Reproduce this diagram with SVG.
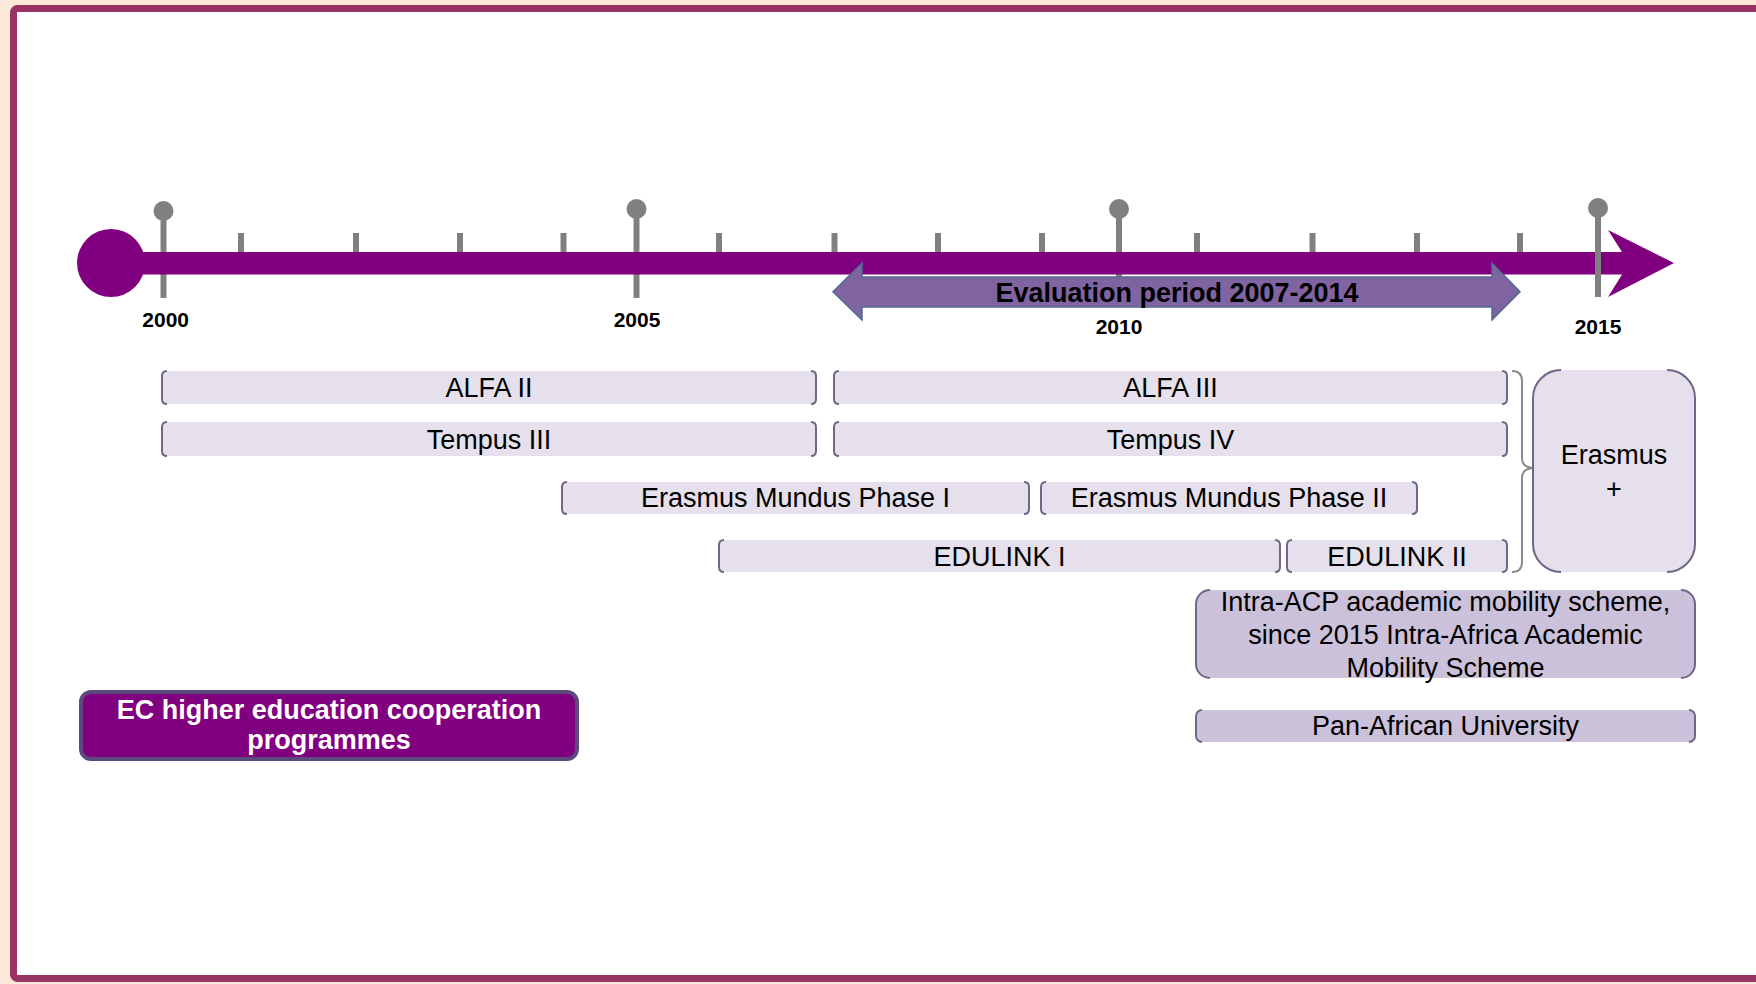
<svg xmlns="http://www.w3.org/2000/svg" width="1756" height="984" viewBox="0 0 1756 984">
  <style>
    text { font-family: "Liberation Sans", Arial, sans-serif; fill: #000; }
    .prog { font-size: 27px; text-anchor: middle; }
    .year { font-size: 21px; font-weight: bold; text-anchor: middle; }
    .bar { fill: #E5E0EC; }
    .bar2 { fill: #CCC1DA; }
    .brk { fill: none; stroke: #6F6688; stroke-width: 2; }
    .pin { stroke: #808080; stroke-width: 6; }
    .tick { stroke: #808080; stroke-width: 6; }
  </style>
  <rect x="0" y="0" width="1756" height="984" fill="#FDE9D9"/>
  <rect x="13.5" y="8.5" width="1800" height="970" rx="4" fill="#FFFFFF" stroke="#993366" stroke-width="7"/>

  <g id="timeline">
    <g id="pins-under">
      <line class="pin" x1="163.5" y1="211" x2="163.5" y2="298"/>
      <circle cx="163.5" cy="211" r="10" fill="#808080"/>
      <line class="pin" x1="636.5" y1="209" x2="636.5" y2="298"/>
      <circle cx="636.5" cy="209" r="10" fill="#808080"/>
      <line class="pin" x1="1119" y1="209" x2="1119" y2="298"/>
      <circle cx="1119" cy="209" r="10" fill="#808080"/>
    </g>
    <g id="ticks">
      <line class="tick" x1="241" y1="233" x2="241" y2="253"/>
      <line class="tick" x1="356" y1="233" x2="356" y2="253"/>
      <line class="tick" x1="460" y1="233" x2="460" y2="253"/>
      <line class="tick" x1="563.5" y1="233" x2="563.5" y2="253"/>
      <line class="tick" x1="719" y1="233" x2="719" y2="253"/>
      <line class="tick" x1="834.5" y1="233" x2="834.5" y2="253"/>
      <line class="tick" x1="938" y1="233" x2="938" y2="253"/>
      <line class="tick" x1="1042" y1="233" x2="1042" y2="253"/>
      <line class="tick" x1="1197" y1="233" x2="1197" y2="253"/>
      <line class="tick" x1="1312.5" y1="233" x2="1312.5" y2="253"/>
      <line class="tick" x1="1417" y1="233" x2="1417" y2="253"/>
      <line class="tick" x1="1520" y1="233" x2="1520" y2="253"/>
    </g>
    <rect x="111" y="252" width="1512" height="22.5" fill="#800080"/>
    <circle cx="111" cy="263" r="34" fill="#800080"/>
    <polygon points="1622,252 1608,230 1674,263 1608,297 1622,274.5" fill="#800080"/>
    <g id="pin-2015">
      <line class="pin" x1="1598" y1="208" x2="1598" y2="297"/>
      <circle cx="1598" cy="208" r="10" fill="#808080"/>
    </g>
    <text class="year" x="165.7" y="327">2000</text>
    <text class="year" x="637" y="327">2005</text>
    <text class="year" x="1119" y="334">2010</text>
    <text class="year" x="1598" y="334">2015</text>
  </g>

  <g id="evaluation">
    <path d="M833,291.7 L862,263 L862,277 L1492,277 L1492,263 L1520,291.7 L1492,320 L1492,307 L862,307 L862,320 Z" fill="#8064A2" stroke="#4F6B8F" stroke-width="1.5"/>
    <text x="1177" y="302" font-size="27" font-weight="bold" text-anchor="middle">Evaluation period 2007-2014</text>
  </g>

  <g id="alfa2">
    <rect class="bar" x="162" y="371" width="654" height="33" rx="5"/>
    <path class="brk" d="M167,371 Q162,371 162,376 V399 Q162,404 167,404 M811,371 Q816,371 816,376 V399 Q816,404 811,404"/>
    <text class="prog" x="489" y="397">ALFA II</text>
  </g>
  <g id="alfa3">
    <rect class="bar" x="834" y="371" width="673" height="33" rx="5"/>
    <path class="brk" d="M839,371 Q834,371 834,376 V399 Q834,404 839,404 M1502,371 Q1507,371 1507,376 V399 Q1507,404 1502,404"/>
    <text class="prog" x="1170.5" y="397">ALFA III</text>
  </g>
  <g id="tempus3">
    <rect class="bar" x="162" y="422" width="654" height="34" rx="5"/>
    <path class="brk" d="M167,422 Q162,422 162,427 V451 Q162,456 167,456 M811,422 Q816,422 816,427 V451 Q816,456 811,456"/>
    <text class="prog" x="489" y="448.5">Tempus III</text>
  </g>
  <g id="tempus4">
    <rect class="bar" x="834" y="422" width="673" height="34" rx="5"/>
    <path class="brk" d="M839,422 Q834,422 834,427 V451 Q834,456 839,456 M1502,422 Q1507,422 1507,427 V451 Q1507,456 1502,456"/>
    <text class="prog" x="1170.5" y="448.5">Tempus IV</text>
  </g>
  <g id="em1">
    <rect class="bar" x="562" y="482" width="467" height="32" rx="5"/>
    <path class="brk" d="M567,482 Q562,482 562,487 V509 Q562,514 567,514 M1024,482 Q1029,482 1029,487 V509 Q1029,514 1024,514"/>
    <text class="prog" x="795.5" y="507">Erasmus Mundus Phase I</text>
  </g>
  <g id="em2">
    <rect class="bar" x="1041" y="482" width="376" height="32" rx="5"/>
    <path class="brk" d="M1046,482 Q1041,482 1041,487 V509 Q1041,514 1046,514 M1412,482 Q1417,482 1417,487 V509 Q1417,514 1412,514"/>
    <text class="prog" x="1229" y="507">Erasmus Mundus Phase II</text>
  </g>
  <g id="edulink1">
    <rect class="bar" x="719" y="540" width="561" height="32" rx="5"/>
    <path class="brk" d="M724,540 Q719,540 719,545 V567 Q719,572 724,572 M1275,540 Q1280,540 1280,545 V567 Q1280,572 1275,572"/>
    <text class="prog" x="999.5" y="565.5">EDULINK I</text>
  </g>
  <g id="edulink2">
    <rect class="bar" x="1287" y="540" width="220" height="32" rx="5"/>
    <path class="brk" d="M1292,540 Q1287,540 1287,545 V567 Q1287,572 1292,572 M1502,540 Q1507,540 1507,545 V567 Q1507,572 1502,572"/>
    <text class="prog" x="1397" y="565.5">EDULINK II</text>
  </g>

  <g id="connectors">
    <path d="M1512,371 Q1522,371 1522,381 V458 Q1522,468 1535,468 Q1522,468 1522,478 V562 Q1522,572 1512,572" fill="none" stroke="#8A8A8A" stroke-width="2"/>
  </g>

  <g id="erasmusplus">
    <rect class="bar" x="1533" y="370" width="162" height="202" rx="28"/>
    <path class="brk" d="M1561,370 A28,28 0 0 0 1533,398 V544 A28,28 0 0 0 1561,572 M1667,370 A28,28 0 0 1 1695,398 V544 A28,28 0 0 1 1667,572"/>
    <text class="prog" x="1614" y="464">Erasmus</text>
    <text class="prog" x="1614" y="498">+</text>
  </g>

  <g id="intraacp">
    <rect class="bar2" x="1196" y="590" width="499" height="88" rx="14"/>
    <path class="brk" d="M1210,590 A14,14 0 0 0 1196,604 V664 A14,14 0 0 0 1210,678 M1681,590 A14,14 0 0 1 1695,604 V664 A14,14 0 0 1 1681,678"/>
    <text class="prog" x="1445.5" y="610.5">Intra-ACP academic mobility scheme,</text>
    <text class="prog" x="1445.5" y="643.5">since 2015 Intra-Africa Academic</text>
    <text class="prog" x="1445.5" y="676.5">Mobility Scheme</text>
  </g>

  <g id="panafrican">
    <rect class="bar2" x="1196" y="710" width="499" height="32" rx="6"/>
    <path class="brk" d="M1202,710 A6,6 0 0 0 1196,716 V736 A6,6 0 0 0 1202,742 M1689,710 A6,6 0 0 1 1695,716 V736 A6,6 0 0 1 1689,742"/>
    <text class="prog" x="1445.5" y="735">Pan-African University</text>
  </g>

  <g id="legend">
    <rect x="81" y="692" width="496" height="67" rx="10" fill="#800080" stroke="#5C4A7E" stroke-width="4"/>
    <text x="329" y="719" font-size="27" font-weight="bold" text-anchor="middle" style="fill:#FFFFFF">EC higher education cooperation</text>
    <text x="329" y="749" font-size="27" font-weight="bold" text-anchor="middle" style="fill:#FFFFFF">programmes</text>
  </g>
</svg>
